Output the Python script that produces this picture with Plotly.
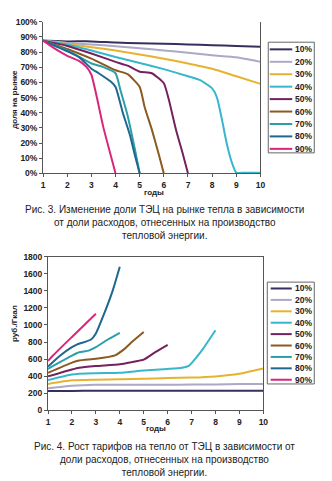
import plotly.graph_objects as go

# ---------------- data ----------------
LABELS = ["10%", "20%", "30%", "40%", "50%", "60%", "70%", "80%", "90%"]
COLORS = ["#37305f", "#aaa9c6", "#e7b230", "#38b6cb", "#74225f",
          "#8b5a20", "#2b9ea8", "#1f6790", "#d8267c"]

YEARS = [1, 2, 3, 4, 5, 6, 7, 8, 9, 10]

# Fig. 3 – market share, %
SHARE_10_X = YEARS
SHARE_10_Y = [87.5, 87, 87, 86.2, 85.7, 85.5, 85, 84.5, 84, 83.5]
SHARE_20_X = YEARS
SHARE_20_Y = [87.5, 86, 85, 83.8, 82.5, 81, 79.5, 77.8, 76.5, 73.5]
SHARE_30_X = YEARS
SHARE_30_Y = [87.5, 85.3, 83.2, 81, 78.4, 75.6, 72.4, 69, 64, 59]
SHARE_40_X = [1, 2, 3, 4, 5, 6, 7, 7.5, 8, 8.2, 8.4, 8.6, 8.8, 9, 9.3, 10]
SHARE_40_Y = [87.5, 85, 81, 76.7, 72.8, 68.7, 64, 61.5, 56, 50, 36, 20, 8, 0.5, 0.5, 0.5]
SHARE_50_X = [1, 2, 3, 4, 4.5, 5, 5.5, 6, 6.2, 6.5, 6.8, 7]
SHARE_50_Y = [87.5, 84, 79, 73.5, 71, 67, 66, 59.4, 49, 29, 12, 0]
SHARE_60_X = [1, 2, 3, 4, 4.5, 5, 5.2, 5.5, 5.8, 6]
SHARE_60_Y = [87.5, 82, 75.6, 68, 65.4, 57, 44, 29, 12, 0]
SHARE_70_X = [1, 2, 3, 3.5, 4, 4.2, 4.5, 4.8, 5]
SHARE_70_Y = [87.5, 81, 72.4, 70, 66, 55, 38, 16, 0]
SHARE_80_X = [1, 2, 2.5, 3, 3.3, 3.8, 4, 4.3, 4.6, 4.8, 5]
SHARE_80_Y = [87.5, 80.5, 76.5, 69, 66, 60.5, 57, 40, 25, 12, 0]
SHARE_90_X = [1, 1.5, 2, 2.5, 2.8, 3, 3.2, 3.5, 3.8, 4]
SHARE_90_Y = [87.5, 82, 77.5, 74, 70, 65, 52, 30, 12, 0]

# Fig. 4 – tariff, rub./Gcal
TARIFF_10_X = YEARS
TARIFF_10_Y = [226, 228, 229, 230, 230, 230, 230, 230, 230, 230]
TARIFF_20_X = YEARS
TARIFF_20_Y = [258, 288, 300, 300, 300, 300, 302, 304, 308, 310]
TARIFF_30_X = YEARS
TARIFF_30_Y = [310, 352, 360, 364, 370, 378, 384, 398, 429, 490]
TARIFF_40_X = [1, 2, 3, 4, 5, 6, 6.6, 6.9, 7.2, 7.5, 8]
TARIFF_40_Y = [355, 421, 435, 440, 467, 485, 500, 525, 620, 730, 938]
TARIFF_50_X = [1, 2, 2.3, 3, 4, 4.5, 5, 5.5, 6]
TARIFF_50_Y = [398, 479, 500, 520, 540, 565, 594, 685, 768]
TARIFF_60_X = [1, 2, 2.3, 3, 3.8, 4.2, 4.5, 5]
TARIFF_60_Y = [440, 560, 585, 605, 645, 720, 800, 918]
TARIFF_70_X = [1, 2, 2.3, 2.7, 3, 3.5, 4]
TARIFF_70_Y = [487, 640, 680, 700, 740, 830, 908]
TARIFF_80_X = [1, 1.5, 2, 2.2, 2.8, 3, 3.3, 3.7, 4]
TARIFF_80_Y = [513, 640, 740, 770, 830, 900, 1100, 1400, 1682]
TARIFF_90_X = [1, 1.2, 2, 3]
TARIFF_90_Y = [580, 640, 860, 1132]

SHARE_SERIES = [(SHARE_10_X, SHARE_10_Y), (SHARE_20_X, SHARE_20_Y), (SHARE_30_X, SHARE_30_Y),
                (SHARE_40_X, SHARE_40_Y), (SHARE_50_X, SHARE_50_Y), (SHARE_60_X, SHARE_60_Y),
                (SHARE_70_X, SHARE_70_Y), (SHARE_80_X, SHARE_80_Y), (SHARE_90_X, SHARE_90_Y)]
TARIFF_SERIES = [(TARIFF_10_X, TARIFF_10_Y), (TARIFF_20_X, TARIFF_20_Y), (TARIFF_30_X, TARIFF_30_Y),
                 (TARIFF_40_X, TARIFF_40_Y), (TARIFF_50_X, TARIFF_50_Y), (TARIFF_60_X, TARIFF_60_Y),
                 (TARIFF_70_X, TARIFF_70_Y), (TARIFF_80_X, TARIFF_80_Y), (TARIFF_90_X, TARIFF_90_Y)]

CAPTION_1 = "Рис. 3. Изменение доли ТЭЦ на рынке тепла в зависимости<br>от доли расходов, отнесенных на производство<br>тепловой энергии."
CAPTION_2 = "Рис. 4. Рост тарифов на тепло от ТЭЦ в зависимости от<br>доли расходов, отнесенных на производство<br>тепловой энергии."

# ---------------- figure ----------------
W, H = 332, 481
FONT = "Liberation Sans, Arial, sans-serif"
TXT = "#222222"
AX = "#555555"


def px(x):
    return x / W


def py(y):
    return 1 - y / H


fig = go.Figure()
for (xs, ys), name, col in zip(SHARE_SERIES, LABELS, COLORS):
    fig.add_trace(go.Scatter(x=xs, y=ys, mode="lines", name=name, showlegend=False,
                             line=dict(color=col, width=2, shape="spline", smoothing=0.5),
                             xaxis="x", yaxis="y"))
for (xs, ys), name, col in zip(TARIFF_SERIES, LABELS, COLORS):
    fig.add_trace(go.Scatter(x=xs, y=ys, mode="lines", name=name, showlegend=False,
                             line=dict(color=col, width=2, shape="spline", smoothing=0.5),
                             xaxis="x2", yaxis="y2"))

tickfont = dict(family=FONT, size=8.5, color=TXT, weight="bold")
common_x = dict(range=[1, 10], dtick=1, tick0=1, showgrid=False, zeroline=False,
                showline=True, linecolor=AX, linewidth=1, ticks="outside", ticklen=3,
                tickcolor=AX, tickfont=tickfont, fixedrange=True)
common_y = dict(showgrid=False, zeroline=False, showline=True, linecolor=AX, linewidth=1,
                ticks="outside", ticklen=3, tickcolor=AX, tickfont=tickfont, mirror=True)

fig.update_layout(
    width=W, height=H,
    margin=dict(l=0, r=0, t=0, b=0),
    paper_bgcolor="white", plot_bgcolor="white",
    showlegend=False,
    xaxis=dict(domain=[px(42), px(264)], anchor="y", **common_x),
    yaxis=dict(domain=[py(172), py(17)], anchor="x", range=[0, 100], dtick=10,
               ticksuffix="%", **common_y),
    xaxis2=dict(domain=[px(47), px(267)], anchor="y2", mirror=True, **common_x),
    yaxis2=dict(domain=[py(414), py(257)], anchor="x2", range=[0, 1800], dtick=200,
                **common_y),
)

ann = []
shapes = []
title_font = dict(family=FONT, size=8, color=TXT, weight="bold")


def label(text, x, y, angle=0):
    ann.append(dict(text=text, x=px(x), y=py(y), xref="paper", yref="paper",
                    xanchor="center", yanchor="middle", textangle=angle,
                    showarrow=False, font=title_font))


# axis titles
label("годы", 155, 191)
label("доля на рынке", 12, 96, -90)
label("годы", 157, 433)
label("руб./Гкал", 13, 325, -90)

# captions
ann.append(dict(text=CAPTION_1, x=0.5, y=py(201), xref="paper", yref="paper",
                xanchor="center", yanchor="top", showarrow=False, align="center",
                font=dict(family=FONT, size=10, color=TXT)))
ann.append(dict(text=CAPTION_2, x=0.5, y=py(443), xref="paper", yref="paper",
                xanchor="center", yanchor="top", showarrow=False, align="center",
                font=dict(family=FONT, size=10, color=TXT)))


def legend(box, first_y, step, line_x0, line_x1, text_x):
    x0, y0, x1, y1 = box
    shapes.append(dict(type="rect", xref="paper", yref="paper", x0=px(x0), x1=px(x1),
                       y0=py(y1), y1=py(y0), line=dict(color="#666666", width=1),
                       fillcolor="white"))
    for i, (name, col) in enumerate(zip(LABELS, COLORS)):
        yy = first_y + i * step
        shapes.append(dict(type="line", xref="paper", yref="paper", x0=px(line_x0),
                           x1=px(line_x1), y0=py(yy), y1=py(yy),
                           line=dict(color=col, width=2)))
        ann.append(dict(text=name, x=px(text_x), y=py(yy), xref="paper", yref="paper",
                        xanchor="left", yanchor="middle", showarrow=False,
                        font=dict(family=FONT, size=8.5, color=TXT, weight="bold")))


legend((272, 38, 319, 151), 45.3, 12.7, 273.5, 296.5, 297)
legend((271, 283, 319, 387), 289.5, 11.65, 274.5, 296, 297)

fig.update_layout(annotations=ann, shapes=shapes)
fig.write_html("out.html")
